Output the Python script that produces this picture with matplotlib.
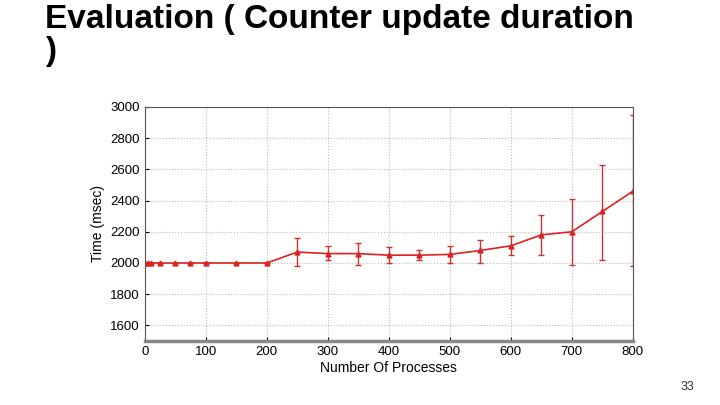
import matplotlib
matplotlib.use("Agg")
import matplotlib.pyplot as plt
import numpy as np

x = [1, 5, 10, 25, 50, 75, 100, 150, 200, 250, 300, 350, 400, 450, 500, 550, 600, 650, 700, 750, 800]
y = [2000, 2000, 2000, 2000, 2000, 2000, 2000, 2000, 2000, 2070, 2060, 2060, 2050, 2050, 2055, 2080, 2110, 2180, 2200, 2330, 2460]
hi = [2000, 2000, 2000, 2000, 2000, 2000, 2000, 2000, 2000, 2160, 2110, 2130, 2100, 2080, 2110, 2150, 2170, 2310, 2410, 2630, 2950]
lo = [2000, 2000, 2000, 2000, 2000, 2000, 2000, 2000, 2000, 1980, 2020, 1990, 2000, 2020, 2000, 2000, 2050, 2050, 1990, 2020, 1980]

plt.rcParams['font.family'] = ['Liberation Sans', 'DejaVu Sans']
fig = plt.figure(figsize=(7.2, 4.05), dpi=100)
ax = fig.add_axes([0.201, 0.158, 0.678, 0.578])
yerr = [np.array(y) - np.array(lo), np.array(hi) - np.array(y)]
ax.errorbar(x, y, yerr=yerr, color='#dd2222', ecolor='#cc3333', elinewidth=1, capsize=2,
            marker='^', markersize=3.5, linewidth=1.2)
ax.set_xlim(0, 800)
ax.set_ylim(1500, 3000)
ax.set_xticks(range(0, 801, 100))
ax.set_yticks(range(1600, 3001, 200))
ax.grid(True, color='#bbbbbb', linestyle=':', linewidth=0.8)
ax.tick_params(labelsize=9.5, length=3, direction='in')
for s in ['top', 'right', 'left']:
    ax.spines[s].set_color('#555555')
    ax.spines[s].set_linewidth(0.8)
ax.spines['bottom'].set_color('#888888')
ax.spines['bottom'].set_linewidth(2.5)
ax.set_xlabel('Number Of Processes', fontsize=10, labelpad=2)
ax.set_ylabel('Time (msec)', fontsize=10)
fig.text(0.062, 0.99, 'Evaluation ( Counter update duration\n)', fontsize=24, fontweight='bold',
         va='top', ha='left', linespacing=1.05)
fig.text(0.965, 0.03, '33', fontsize=9, ha='right', va='bottom', color='#333333')
fig.savefig('out.png', dpi=100)
